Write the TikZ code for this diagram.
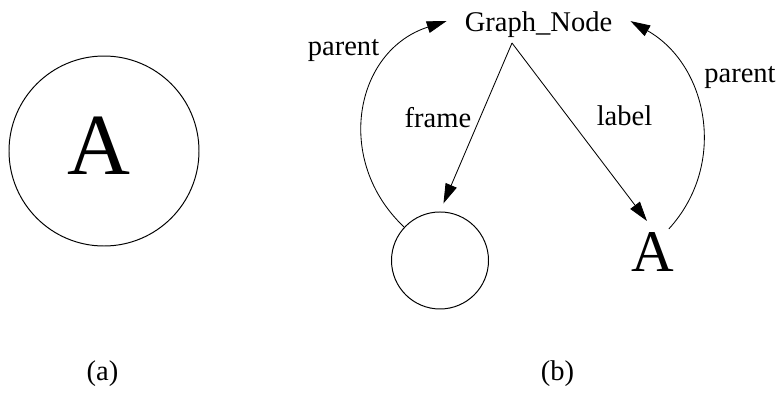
\documentclass[tikz,border=0pt]{standalone}
\usepackage{fontspec}
\setmainfont{Liberation Serif}
\usetikzlibrary{arrows.meta}
\tikzset{
  ring/.style={circle, draw=black, line width=0.7pt, inner sep=0pt},
  biglabel/.style={font=\fontsize{62}{70}\selectfont, anchor=base, inner sep=0pt},
  midlabel/.style={font=\fontsize{42}{48}\selectfont, anchor=base, inner sep=2pt},
  tag/.style={font=\fontsize{20.3}{24}\selectfont, anchor=base},
  link/.style={draw=black, line width=0.6pt, -{Triangle[length=14pt, width=8.5pt]}},
}

\begin{document}
\begin{tikzpicture}
\useasboundingbox (0,0) rectangle (19.450,9.800);
% (a)
\node[ring, minimum size=4.750cm] (big) at (2.600,6.025) {};
\node[biglabel] (bigA) at (2.475,5.450) {A};
\node[tag] (capa) at (2.563,0.300) {(a)};
% (b)
\node[tag, inner xsep=0.45cm, text depth=0pt] (gn) at (13.463,9.025) {Graph\_Node};
\coordinate (apex) at (12.800,8.725);
\node[ring, minimum size=2.425cm] (frm) at (11.000,3.288) {};
\node[midlabel] (lblA) at (16.325,3.025) {A};
\draw[link, shorten >=0.22cm] (apex) -- (frm.north);
\draw[link, shorten >=0.25cm] (apex) -- (lblA.north);
\draw[link] (frm.137) .. controls +(136.8:2.42) and +(197.8:2.42) .. (gn.west);
\draw[link] (lblA.55) .. controls +(47.6:2.21) and +(-29.5:2.21) .. (gn.east);
\node[tag] (parL) at (8.588,8.425) {parent};
\node[tag] (frmtag) at (10.950,6.625) {frame};
\node[tag] (lbltag) at (15.613,6.675) {label};
\node[tag] (parR) at (18.500,7.750) {parent};
\node[tag] (capb) at (13.938,0.300) {(b)};
\end{tikzpicture}
\end{document}
